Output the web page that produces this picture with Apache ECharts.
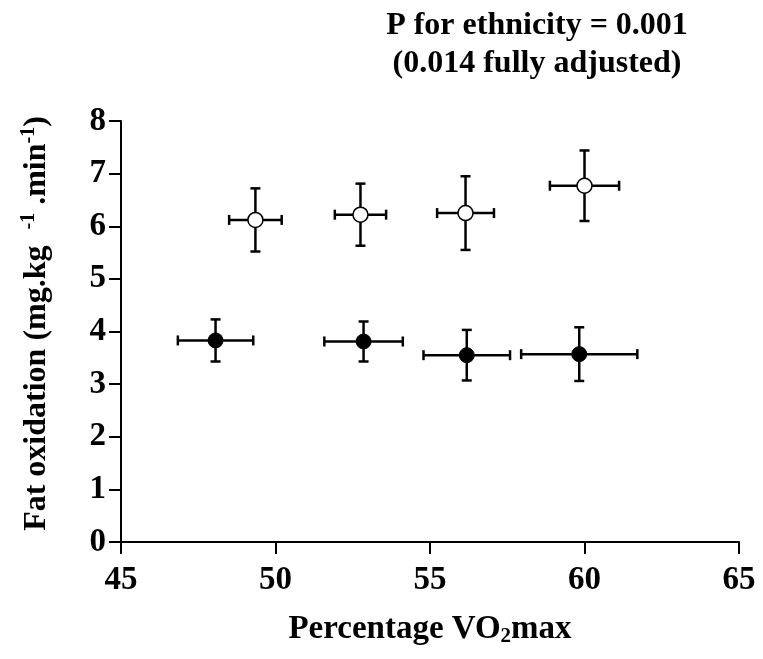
<!DOCTYPE html>
<html>
<head>
<meta charset="utf-8">
<script src="https://cdn.jsdelivr.net/npm/echarts@6/dist/echarts.min.js"></script>
<style>html,body{margin:0;padding:0;background:#fff;}#c{width:763px;height:659px;}</style>
</head>
<body>
<div id="c"></div>
<script>
const xTicks = [45, 50, 55, 60, 65];
const yTicks = [0, 1, 2, 3, 4, 5, 6, 7, 8];
// open circles
const openX = [49.35, 52.75, 56.15, 60.0];
const openY = [6.12, 6.22, 6.25, 6.77];
const openXErr = [0.85, 0.83, 0.92, 1.12];
const openYErr = [0.60, 0.59, 0.70, 0.67];
// filled circles
const filledX = [48.06, 52.85, 56.19, 59.83];
const filledY = [3.83, 3.81, 3.55, 3.57];
const filledXErr = [1.22, 1.27, 1.40, 1.88];
const filledYErr = [0.40, 0.38, 0.48, 0.51];
const titleLines = ['P for ethnicity = 0.001', '(0.014 fully adjusted)'];

const FONT = '"Liberation Serif", "Times New Roman", serif';

function errData(xs, ys, xe, ye) {
  return xs.map((x, i) => [x, ys[i], xe[i], ye[i]]);
}
function renderErr(params, api) {
  const x = api.value(0), y = api.value(1), xe = api.value(2), ye = api.value(3);
  const c = api.coord([x, y]);
  const l = api.coord([x - xe, y]), r = api.coord([x + xe, y]);
  const t = api.coord([x, y + ye]), b = api.coord([x, y - ye]);
  const cap = 5;
  const st = { stroke: '#000', lineWidth: 2.5 };
  const line = (x1, y1, x2, y2) => ({ type: 'line', shape: { x1, y1, x2, y2 }, style: st });
  return {
    type: 'group',
    children: [
      line(l[0], c[1], r[0], c[1]),
      line(l[0], c[1] - cap, l[0], c[1] + cap),
      line(r[0], c[1] - cap, r[0], c[1] + cap),
      line(c[0], t[1], c[0], b[1]),
      line(c[0] - cap, t[1], c[0] + cap, t[1]),
      line(c[0] - cap, b[1], c[0] + cap, b[1])
    ]
  };
}

const chart = echarts.init(document.getElementById('c'), null, { renderer: 'canvas' });
chart.setOption({
  animation: false,
  backgroundColor: '#fff',
  title: {
    text: titleLines.join('\n'),
    left: 532, top: 2, textAlign: 'center',
    textStyle: { fontFamily: FONT, fontWeight: 'bold', fontSize: 32, color: '#000', lineHeight: 38 }
  },
  grid: { left: 121, right: 24, top: 121, bottom: 117 },
  xAxis: {
    type: 'value', min: xTicks[0], max: xTicks[xTicks.length - 1], interval: 5,
    splitLine: { show: false },
    axisLine: { lineStyle: { color: '#000', width: 2 } },
    axisTick: { length: 12, lineStyle: { color: '#000', width: 2 } },
    axisLabel: { margin: 22, fontFamily: FONT, fontWeight: 'bold', fontSize: 33, color: '#000' },
    name: 'Percentage VO{sub|2}max', nameLocation: 'middle', nameGap: 70,
    nameTextStyle: {
      fontFamily: FONT, fontWeight: 'bold', fontSize: 33, color: '#000',
      rich: { sub: { fontFamily: FONT, fontWeight: 'bold', fontSize: 21, color: '#000', verticalAlign: 'bottom', padding: [14, 0, 0, 0] } }
    }
  },
  yAxis: {
    type: 'value', min: yTicks[0], max: yTicks[yTicks.length - 1], interval: 1,
    splitLine: { show: false },
    axisLine: { show: true, lineStyle: { color: '#000', width: 2 } },
    axisTick: { show: true, length: 12, lineStyle: { color: '#000', width: 2 } },
    axisLabel: { margin: 15, fontFamily: FONT, fontWeight: 'bold', fontSize: 33, color: '#000' },
    name: 'Fat oxidation (mg.kg  {s|-1} .min{s|-1})', nameLocation: 'middle', nameGap: 66, nameRotate: 90,
    nameTextStyle: {
      fontFamily: FONT, fontWeight: 'bold', fontSize: 32, color: '#000', padding: [0, 0, 0, 16],
      rich: { s: { fontFamily: FONT, fontWeight: 'bold', fontSize: 20, color: '#000', verticalAlign: 'top', padding: [0, 0, 16, 0] } }
    }
  },
  series: [
    { type: 'custom', data: errData(openX, openY, openXErr, openYErr), renderItem: renderErr, z: 2 },
    { type: 'custom', data: errData(filledX, filledY, filledXErr, filledYErr), renderItem: renderErr, z: 2 },
    { type: 'scatter', data: openX.map((x, i) => [x, openY[i]]), symbol: 'circle', symbolSize: 15,
      itemStyle: { color: '#fff', borderColor: '#000', borderWidth: 1.5, opacity: 1 }, z: 5 },
    { type: 'scatter', data: filledX.map((x, i) => [x, filledY[i]]), symbol: 'circle', symbolSize: 15,
      itemStyle: { color: '#000', borderColor: '#000', borderWidth: 1, opacity: 1 }, z: 5 }
  ]
});
</script>
</body>
</html>
